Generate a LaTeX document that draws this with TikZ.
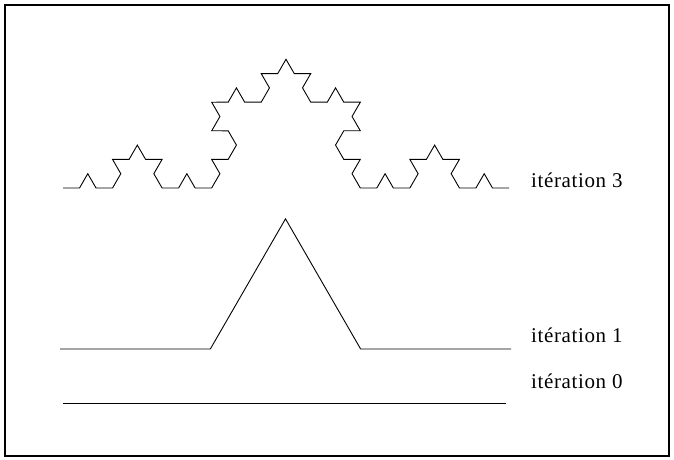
\documentclass[tikz,border=0pt]{standalone}
\usepackage{fontspec}
\setmainfont{Liberation Serif}
\usetikzlibrary{decorations.fractals}

\begin{document}
\begin{tikzpicture}[x=1pt, y=-1pt,
    curve/.style={line width=0.9pt, line join=miter, decoration=Koch snowflake},
    label/.style={anchor=base west, inner sep=0pt, font=\fontsize{21}{24}\selectfont\addfontfeature{LetterSpace=3}}
]
\useasboundingbox (0,0) rectangle (674,459);
\draw[line width=1.6pt] (5,5) rectangle (669,456);

% iteration 3
\draw[curve] decorate{decorate{decorate{(63,188) -- (509,188)}}};
\node[label] (lbl3) at (531,187) {itération 3};

% iteration 1
\draw[curve] decorate{(60,349) -- (511,349)};
\node[label] (lbl1) at (531,342) {itération 1};

% iteration 0
\draw[curve] (63,403) -- (506,403);
\node[label] (lbl0) at (531,388) {itération 0};
\end{tikzpicture}
\end{document}
